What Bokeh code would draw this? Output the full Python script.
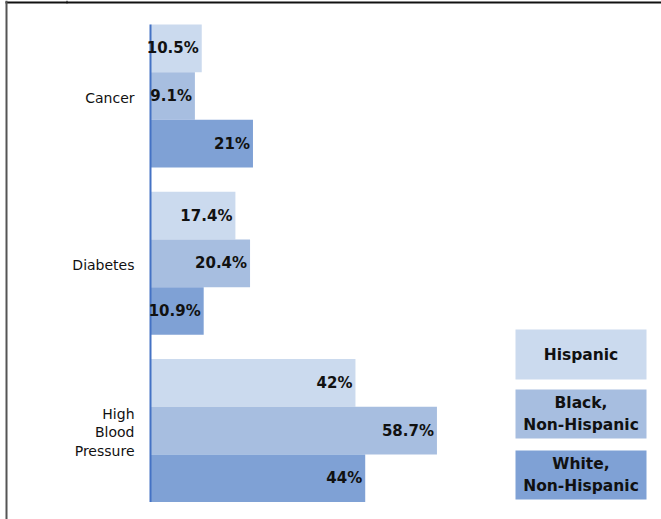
from bokeh.plotting import figure
from bokeh.models import Range1d, ColumnDataSource
from bokeh.core.properties import value
from bokeh.embed import file_html
from bokeh.resources import INLINE

# ---- data -------------------------------------------------------------
categories = ["Cancer", "Diabetes", "High\nBlood\nPressure"]
series_names = ["Hispanic", "Black,\nNon-Hispanic", "White,\nNon-Hispanic"]
hispanic = [10.5, 17.4, 42]
black = [9.1, 20.4, 58.7]
white = [21, 10.9, 44]
series_values = [hispanic, black, white]
series_colors = ["#CBDAEE", "#A7BEE0", "#7FA1D5"]

# ---- layout (pixels) --------------------------------------------------
W, H = 661, 519
AXIS_X = 150          # pixel column of the value axis
PX_PER_PCT = 4.88     # horizontal scale
GROUP_TOP = 95.5      # pixel centre of the first category
GROUP_STEP = 167.3    # pixel distance between category centres
BAR_H = 0.285         # bar thickness, in category units
LINE_STEP = 18.5      # line spacing of the stacked category labels
FONT = value("DejaVu Sans")

p = figure(
    width=W, height=H,
    output_backend="svg", toolbar_location=None,
    x_axis_location=None, y_axis_location=None,
    min_border=0, outline_line_color=None,
    # default ranges are in page pixels (y grows downward)
    x_range=Range1d(0, W), y_range=Range1d(H, 0),
)
p.xgrid.visible = False
p.ygrid.visible = False
p.background_fill_color = "white"
p.border_fill_color = "white"

# value scale (percent) and category scale (index, top to bottom)
p.extra_x_ranges = {"pct": Range1d(-AXIS_X / PX_PER_PCT, (W - AXIS_X) / PX_PER_PCT)}
p.extra_y_ranges = {"cat": Range1d((H - GROUP_TOP) / GROUP_STEP, -GROUP_TOP / GROUP_STEP)}

n = len(categories)

# ---- bars ---------------------------------------------------------------
sources = []
for j, (vals, color) in enumerate(zip(series_values, series_colors)):
    ys = [i + (j - 1) * BAR_H for i in range(n)]
    src = ColumnDataSource(dict(
        y=ys, v=vals, label=[f"{v:g}%" for v in vals],
    ))
    sources.append(src)
    p.hbar(y="y", left=0, right="v", height=BAR_H, source=src,
           fill_color=color, line_color=None,
           x_range_name="pct", y_range_name="cat")

# value axis line, spanning the bars
p.segment(x0=[0], x1=[0], y0=[-1.5 * BAR_H], y1=[n - 1 + 1.5 * BAR_H],
          x_range_name="pct", y_range_name="cat",
          line_color="#4472C4", line_width=2)

# value labels at the end of each bar
for src in sources:
    p.text(x="v", y="y", text="label", source=src,
           x_range_name="pct", y_range_name="cat",
           x_offset=-3, text_align="right", text_baseline="middle",
           text_font=FONT, text_font_style="bold", text_font_size="15px",
           text_color="#111111")

# category labels, one right-aligned text per line
lab_x, lab_y, lab_t = [], [], []
for i, name in enumerate(categories):
    lines = name.split("\n")
    m = len(lines)
    for k, line in enumerate(lines):
        lab_x.append(AXIS_X - 16)
        lab_y.append(GROUP_TOP + i * GROUP_STEP + 1.5 + (k - (m - 1) / 2) * LINE_STEP)
        lab_t.append(line)
p.text(x=lab_x, y=lab_y, text=lab_t,
       text_align="right", text_baseline="middle",
       text_font=FONT, text_font_size="14px", text_color="#111111")

# ---- legend boxes ----------------------------------------------------
LEG_L, LEG_R = 515, 646
leg_top = [329, 389, 450]
leg_bot = [379, 438, 499]
p.quad(left=[LEG_L] * 3, right=[LEG_R] * 3, top=leg_top, bottom=leg_bot,
       fill_color=series_colors, line_color=None)
p.text(x=[(LEG_L + LEG_R) / 2] * 3,
       y=[(t + b) / 2 for t, b in zip(leg_top, leg_bot)],
       text=series_names, text_align="center", text_baseline="middle",
       text_font=FONT, text_font_style="bold", text_font_size="15.5px",
       text_color="#111111", text_line_height=1.2)

# ---- page frame lines ---------------------------------------------------
p.quad(left=[5], right=[W], top=[1], bottom=[3],
       fill_color="#111111", line_color=None)
p.quad(left=[5], right=[7], top=[0], bottom=[H],
       fill_color="#555555", line_color=None)
p.quad(left=[66], right=[67], top=[0], bottom=[3],
       fill_color="#111111", line_color=None)

open("out.html", "w").write(file_html(p, INLINE))
